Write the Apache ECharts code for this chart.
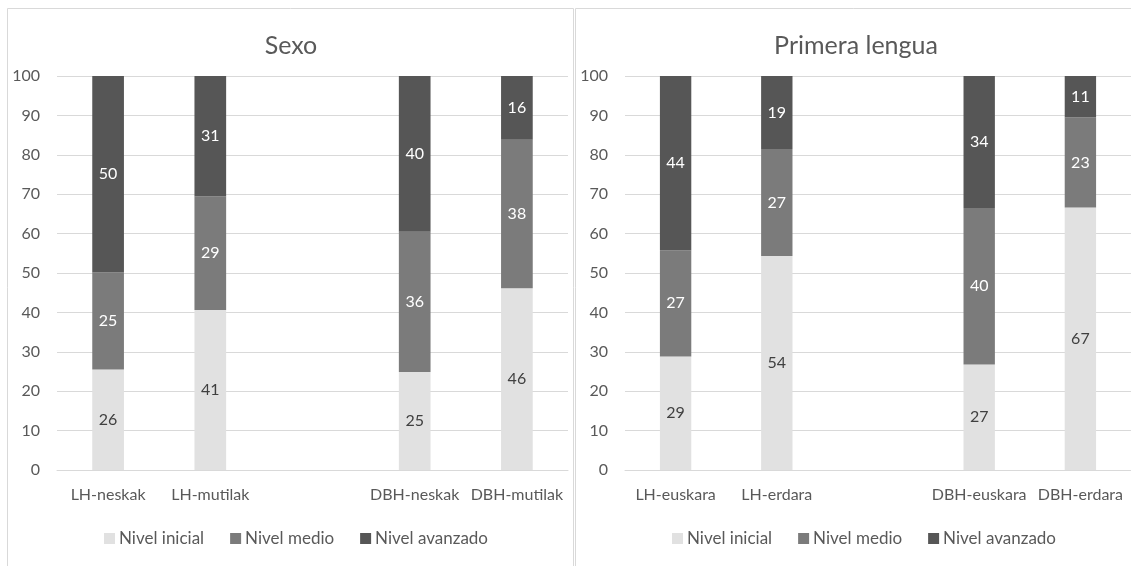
<!DOCTYPE html>
<html>
<head>
<meta charset="utf-8">
<script src="https://cdn.jsdelivr.net/npm/echarts@6/dist/echarts.min.js"></script>
<style>
  html, body { margin: 0; padding: 0; background: #ffffff; }
  #chart { width: 1131px; height: 566px; }
</style>
</head>
<body>
<div id="chart"></div>
<script>
// Level names shared by both panels
const levels = ['Nivel inicial', 'Nivel medio', 'Nivel avanzado'];

// Panel 1: by sex (empty slot separates LH from DBH)
const sexCategories = ['LH-neskak', 'LH-mutilak', '', 'DBH-neskak', 'DBH-mutilak'];
const sexInicial   = [25.5, 40.6, null, 24.9, 46.1];
const sexMedio     = [24.6, 28.9, null, 35.6, 37.7];
const sexAvanzado  = [49.9, 30.5, null, 39.5, 16.2];

// Panel 2: by first language
const langCategories = ['LH-euskara', 'LH-erdara', '', 'DBH-euskara', 'DBH-erdara'];
const langInicial  = [28.8, 54.3, null, 26.8, 66.6];
const langMedio    = [27.0, 27.2, null, 39.7, 22.9];
const langAvanzado = [44.2, 18.5, null, 33.5, 10.5];

const panelTitles = ['Sexo', 'Primera lengua'];
const yTicks = [0, 10, 20, 30, 40, 50, 60, 70, 80, 90, 100];

const FONT = 'Lato, "Open Sans", sans-serif';
const TEXT = '#595959';
const GRID = '#d9d9d9';
const colors = ['#e1e1e1', '#7b7b7b', '#565656'];
const labelColors = ['#404040', '#ffffff', '#ffffff'];

const chart = echarts.init(document.getElementById('chart'), null, { renderer: 'canvas' });

function xAxisFor(idx, cats) {
  return {
    type: 'category', gridIndex: idx, data: cats,
    axisLine: { lineStyle: { color: GRID, width: 1 } },
    axisTick: { show: false },
    axisLabel: { color: TEXT, fontFamily: FONT, fontSize: 16, margin: 17, interval: 0 }
  };
}
function yAxisFor(idx) {
  return {
    type: 'value', gridIndex: idx, min: yTicks[0], max: yTicks[yTicks.length - 1],
    interval: yTicks[1] - yTicks[0],
    axisLine: { show: false }, axisTick: { show: false },
    splitLine: { lineStyle: { color: GRID, width: 1 } },
    axisLabel: { color: TEXT, fontFamily: FONT, fontSize: 16, margin: 17 }
  };
}
function stackSeries(idx, arrays, stackName) {
  return arrays.map((arr, i) => ({
    name: levels[i], type: 'bar', stack: stackName,
    xAxisIndex: idx, yAxisIndex: idx,
    barWidth: '31%',
    data: arr,
    itemStyle: { color: colors[i] },
    label: {
      show: true, position: 'inside', color: labelColors[i],
      fontFamily: FONT, fontSize: 16,
      formatter: p => (p.value == null ? '' : String(Math.round(p.value)))
    },
    emphasis: { disabled: true }
  }));
}
function legendFor(left) {
  return {
    data: levels, left: left, top: 530, padding: 0, icon: 'rect',
    itemWidth: 11, itemHeight: 11, itemGap: 26,
    textStyle: { color: TEXT, fontFamily: FONT, fontSize: 17, padding: [0, 0, 0, -1] },
    selectedMode: false
  };
}

chart.setOption({
  animation: false,
  backgroundColor: '#ffffff',
  graphic: [
    { type: 'rect', shape: { x: 7.5, y: 8.5, width: 566, height: 620 },
      style: { fill: null, stroke: GRID, lineWidth: 1 }, silent: true, z: -10 },
    { type: 'rect', shape: { x: 575.5, y: 8.5, width: 562, height: 620 },
      style: { fill: null, stroke: GRID, lineWidth: 1 }, silent: true, z: -10 },
    { type: 'text', x: 291, y: 46,
      style: { text: panelTitles[0], fill: TEXT, font: '25px ' + FONT, textAlign: 'center', textVerticalAlign: 'middle' } },
    { type: 'text', x: 856, y: 46,
      style: { text: panelTitles[1], fill: TEXT, font: '25px ' + FONT, textAlign: 'center', textVerticalAlign: 'middle' } }
  ],
  grid: [
    { left: 57, top: 76, width: 511, height: 394 },
    { left: 625, top: 76, width: 506, height: 394 }
  ],
  xAxis: [xAxisFor(0, sexCategories), xAxisFor(1, langCategories)],
  yAxis: [yAxisFor(0), yAxisFor(1)],
  legend: [legendFor(104), legendFor(672)],
  series: [
    ...stackSeries(0, [sexInicial, sexMedio, sexAvanzado], 'sexo'),
    ...stackSeries(1, [langInicial, langMedio, langAvanzado], 'lengua')
  ]
});
</script>
</body>
</html>
